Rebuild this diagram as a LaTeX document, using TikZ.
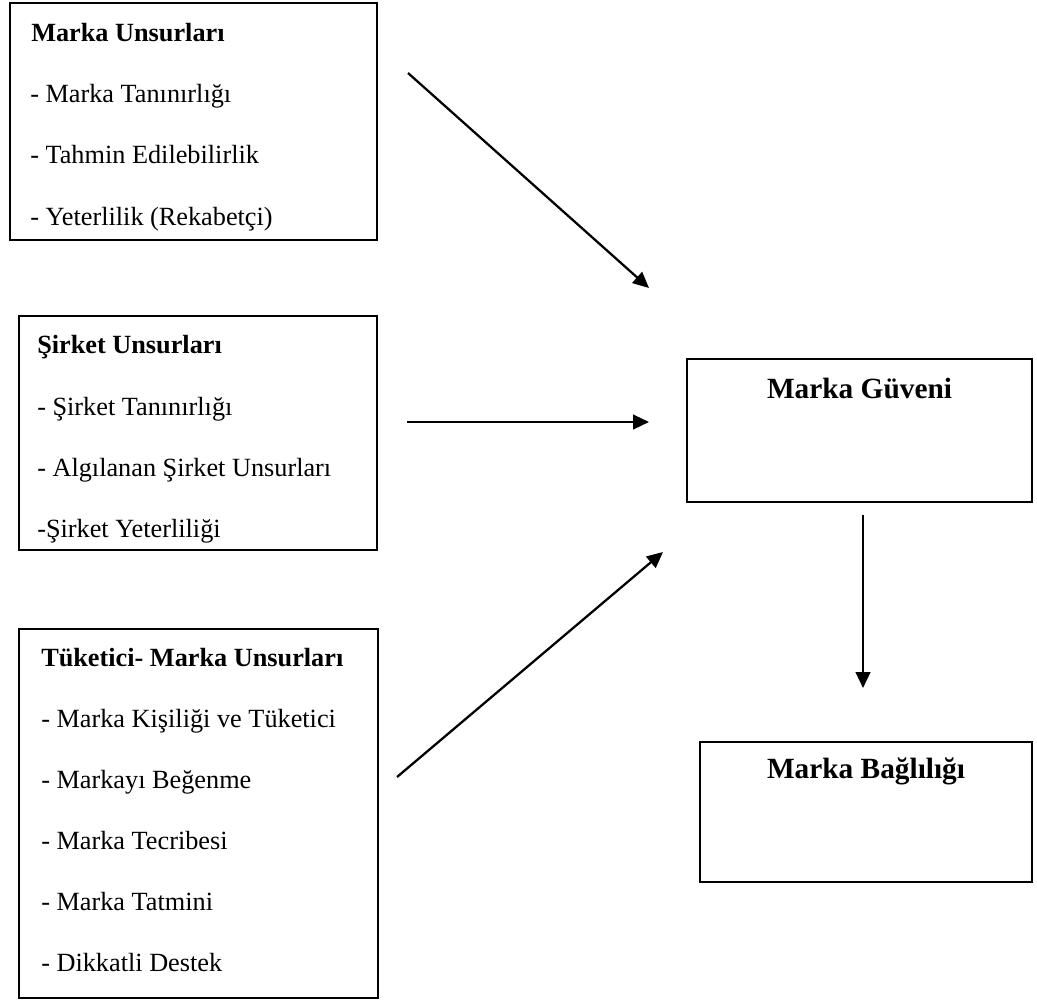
\documentclass[tikz,border=0pt]{standalone}
\usepackage{fontspec}
\setmainfont{Liberation Serif}
\usetikzlibrary{arrows.meta,fit}
\begin{document}
\begin{tikzpicture}[x=0.75pt,y=-0.75pt,
  box/.style={draw=black, line width=1.5pt, inner sep=0pt, rectangle},
  item/.style={anchor=base west, inner sep=0pt, font=\fontsize{19.7}{24}\selectfont},
  head/.style={anchor=base west, inner sep=0pt, font=\fontsize{19.7}{24}\selectfont\bfseries},
  title/.style={anchor=base, inner sep=0pt, font=\fontsize{22}{26}\selectfont\bfseries},
  conn/.style={line width=1.7pt, -{Triangle[length=12pt,width=11pt]}}]
\useasboundingbox (0,0) rectangle (1037,1003);

% Box 1
\node[box, fit={(10,3) (377,240)}] (b1) {};
\node[head] (b1h) at (31,41) {Marka Unsurları};
\node[item] (b1a) at (30,102) {- Marka Tanınırlığı};
\node[item] (b1b) at (30,163) {- Tahmin Edilebilirlik};
\node[item] (b1c) at (30,225) {- Yeterlilik (Rekabetçi)};

% Box 2
\node[box, fit={(19,316) (377,550)}] (b2) {};
\node[head] (b2h) at (37,353) {Şirket Unsurları};
\node[item] (b2a) at (37,415) {- Şirket Tanınırlığı};
\node[item] (b2b) at (37,476) {- Algılanan Şirket Unsurları};
\node[item] (b2c) at (37,537) {-Şirket Yeterliliği};

% Box 3
\node[box, fit={(19,629) (378,998)}] (b3) {};
\node[head] (b3h) at (41,666) {Tüketici- Marka Unsurları};
\node[item] (b3a) at (41,727) {- Marka Kişiliği ve Tüketici};
\node[item] (b3b) at (41,788) {- Markayı Beğenme};
\node[item] (b3c) at (41,849) {- Marka Tecribesi};
\node[item] (b3d) at (41,910) {- Marka Tatmini};
\node[item] (b3e) at (41,971) {- Dikkatli Destek};

% Box 4
\node[box, fit={(687,359) (1032,502)}] (b4) {};
\node[title] (b4t) at (859.5,398) {Marka Güveni};

% Box 5
\node[box, fit={(700,742) (1032,882)}] (b5) {};
\node[title] (b5t) at (866,778) {Marka Bağlılığı};

% Connector ends
\coordinate (a1s) at (408,73);
\coordinate (a1e) at (649,288);
\coordinate (a2s) at (407,422);
\coordinate (a2e) at (649,422);
\coordinate (a3s) at (397,777);
\coordinate (a3e) at (663,552);
\coordinate (a4s) at (863,515);
\coordinate (a4e) at (863,688);

\draw[conn] (a1s) -- (a1e);
\draw[conn] (a2s) -- (a2e);
\draw[conn] (a3s) -- (a3e);
\draw[conn] (a4s) -- (a4e);
\end{tikzpicture}
\end{document}
